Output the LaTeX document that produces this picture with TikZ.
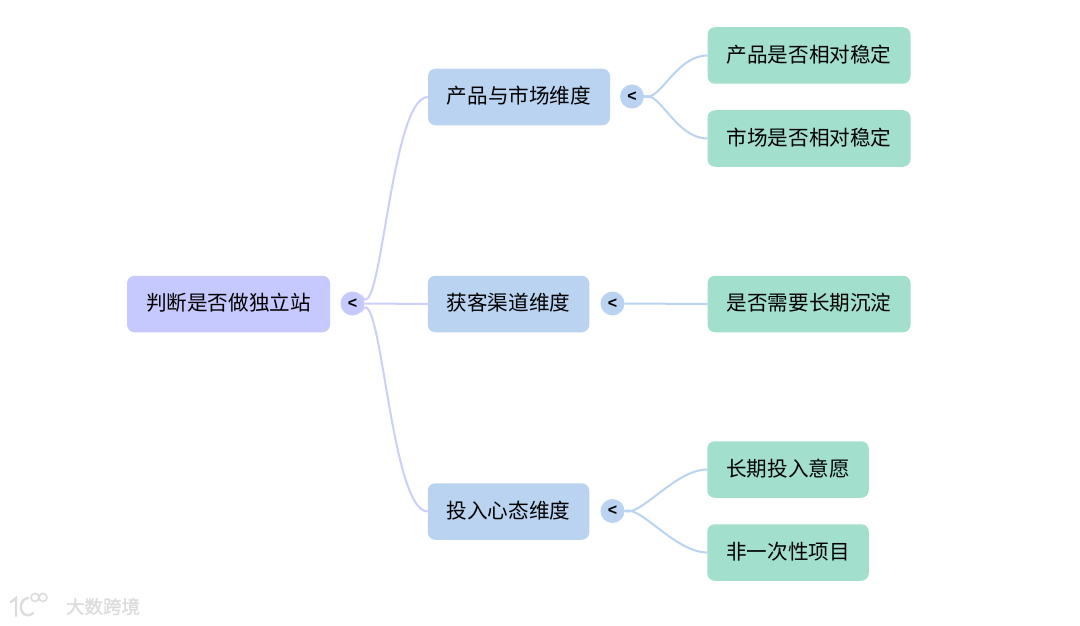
\documentclass[tikz,border=0pt]{standalone}
\usepackage{fontspec}
\setmainfont{Noto Sans CJK SC}
\newfontfamily\latinb{Liberation Sans}
\newfontfamily\wmfont[FakeBold=1.2]{Noto Sans CJK SC}
\newcommand{\lbl}[1]{\raisebox{0pt}[\height][\dimexpr\depth+2.4pt\relax]{#1}}
\definecolor{rootc}{HTML}{C6C9FD}
\definecolor{midc}{HTML}{BAD3F0}
\definecolor{leafc}{HTML}{A2DFCC}
\definecolor{linkr}{HTML}{CDCFFB}
\definecolor{wm}{HTML}{DCDCDC}
\tikzset{
  box/.style={rounded corners=7.5pt,minimum height=56.5pt,inner sep=0pt,outer sep=0pt,text=black,font=\fontsize{20.6}{24}\selectfont},
  rootbox/.style={box,fill=rootc,minimum width=203pt},
  midbox/.style={box,fill=midc},
  leafbox/.style={box,fill=leafc},
  fold/.style={circle,minimum size=24pt,inner sep=0pt,outer sep=0pt,font=\latinb\bfseries\fontsize{16}{16}\selectfont,text=black},
  foldroot/.style={fold,fill=rootc},
  foldmid/.style={fold,fill=midc},
  linkroot/.style={draw=linkr,line width=2pt},
  linkmid/.style={draw=midc,line width=2pt}
}
\begin{document}
\begin{tikzpicture}[x=1pt,y=-1pt]
\useasboundingbox[fill=white] (0,0) rectangle (1080,626);
\node[rootbox] (root) at (228.5,304) {\lbl{判断是否做独立站}};
\node[foldroot] (f0) at (352.5,303.5) {<};
\node[midbox,minimum width=182pt] (m1) at (519,97) {\lbl{产品与市场维度}};
\node[midbox,minimum width=161.5pt] (m2) at (508.5,304) {\lbl{获客渠道维度}};
\node[midbox,minimum width=161.5pt] (m3) at (508.5,511.5) {\lbl{投入心态维度}};
\node[foldmid] (f1) at (632,96.5) {<};
\node[foldmid] (f2) at (612.5,303.5) {<};
\node[foldmid] (f3) at (612.5,511) {<};
\node[leafbox,minimum width=203pt] (l1) at (809,55.5) {\lbl{产品是否相对稳定}};
\node[leafbox,minimum width=203pt] (l2) at (809,138.5) {\lbl{市场是否相对稳定}};
\node[leafbox,minimum width=203pt] (l3) at (809,304) {\lbl{是否需要长期沉淀}};
\node[leafbox,minimum width=161.5pt] (l4) at (788,469.5) {\lbl{长期投入意愿}};
\node[leafbox,minimum width=161.5pt] (l5) at (788,552.5) {\lbl{非一次性项目}};
\draw[linkroot] (f0.north east) .. controls ([xshift=20pt,yshift=-40pt]f0.north east) and ([xshift=-38pt]m1.west) .. (m1.west);
\draw[linkroot] (f0.east) -- (m2.west);
\draw[linkroot] (f0.south east) .. controls ([xshift=20pt,yshift=40pt]f0.south east) and ([xshift=-38pt]m3.west) .. (m3.west);
\draw[linkmid] (f1.east) .. controls ([xshift=16pt,yshift=-6pt]f1.east) and ([xshift=-32pt]l1.west) .. (l1.west);
\draw[linkmid] (f1.east) .. controls ([xshift=16pt,yshift=6pt]f1.east) and ([xshift=-32pt]l2.west) .. (l2.west);
\draw[linkmid] (f2.east) -- (l3.west);
\draw[linkmid] (f3.east) .. controls ([xshift=16pt,yshift=-6pt]f3.east) and ([xshift=-32pt]l4.west) .. (l4.west);
\draw[linkmid] (f3.east) .. controls ([xshift=16pt,yshift=6pt]f3.east) and ([xshift=-32pt]l5.west) .. (l5.west);
% watermark
\node[inner sep=0pt,text=wm,font=\wmfont\fontsize{18.5}{20}\selectfont] (wmtext) at (103,606.5) {大数跨境};
\draw[wm,line width=2.4pt,line cap=round] (11,602) -- (16,598) -- (16,616);
\draw[wm,line width=2.4pt,line cap=round] (28,598) .. controls (20,599) and (19,610) .. (23,613) .. controls (26,616) and (30,616) .. (33,613);
\draw[wm,line width=1.6pt] (35,597.5) circle (4pt);
\draw[wm,line width=1.6pt] (43,597.5) circle (4pt);
\end{tikzpicture}
\end{document}
